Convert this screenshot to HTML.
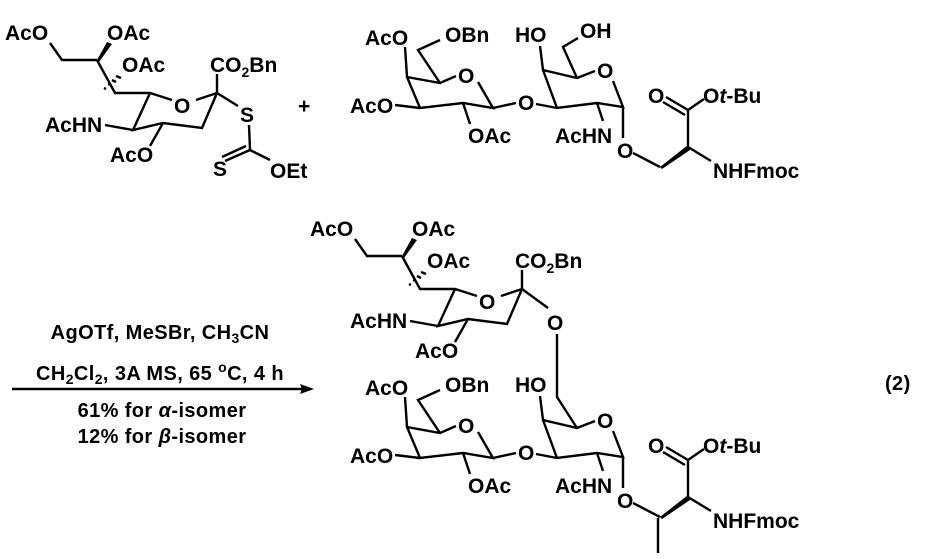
<!DOCTYPE html>
<html><head><meta charset="utf-8"><style>
html,body{margin:0;padding:0;background:#fff;}
svg{display:block;}
text{font-family:"Liberation Sans",Arial,sans-serif;font-size:21px;font-weight:bold;fill:#000;}
.s{font-size:14px;}
.c{font-size:20px;letter-spacing:0.4px;}
.c .s{font-size:14px;}
line,polyline{stroke:#000;stroke-width:2.4;fill:none;}
</style></head><body>
<svg width="926" height="559" viewBox="0 0 926 559" xmlns="http://www.w3.org/2000/svg">
<defs>
<g id="sia">
  <text x="5" y="40">AcO</text>
  <text x="107" y="40">OAc</text>
  <text x="122" y="72">OAc</text>
  <text x="45" y="132">AcHN</text>
  <text x="110" y="162">AcO</text>
  <text x="210" y="72">CO<tspan class="s" dy="5">2</tspan><tspan dy="-5">Bn</tspan></text>
  <text x="174" y="113">O</text>
  <polyline points="50,43 62,60 97,60"/>
  <polygon points="97,60 107,42 112,44 99,62" fill="#000"/>
  <g stroke-width="2">
    <line x1="104" y1="88" x2="106" y2="89"/><line x1="108" y1="84" x2="111" y2="85"/><line x1="112" y1="80" x2="116" y2="82"/><line x1="116" y1="76" x2="121" y2="78"/>
  </g>
  <polyline points="97,60 115,93 150,93 172,100"/>
  <line x1="196" y1="100" x2="217" y2="93"/>
  <polyline points="217,93 202,128 163,123 133,130 150,93"/>
  <line x1="105" y1="125" x2="133" y2="130"/>
  <line x1="163" y1="123" x2="150" y2="146"/>
  <line x1="217" y1="93" x2="217" y2="74"/>
</g>
<g id="galpart">
  <text x="365" y="45">AcO</text>
  <text x="445" y="42">OBn</text>
  <text x="350" y="113">AcO</text>
  <text x="468" y="143">OAc</text>
  <text x="458" y="83">O</text>
  <text x="518" y="110">O</text>
  <text x="515" y="42">HO</text>
  <text x="597" y="78">O</text>
  <text x="555" y="143">AcHN</text>
  <text x="617" y="158">O</text>
  <text x="648" y="103">O</text>
  <text x="703" y="103">O<tspan font-style="italic">t</tspan>-Bu</text>
  <text x="713" y="178">NHFmoc</text>
  <polyline points="405,47 407,77 440,83 456,76"/>
  <polyline points="440,83 418,50 440,40"/>
  <polyline points="478,82 493,108 463,103 420,108 407,77"/>
  <line x1="395" y1="105" x2="420" y2="108"/>
  <line x1="463" y1="103" x2="470" y2="124"/>
  <line x1="493" y1="108" x2="516" y2="103"/>
  <line x1="536" y1="104" x2="557" y2="108"/>
  <polyline points="540,46 543,70 577,78 595,71"/>
  <polyline points="613,81 623,107 597,103 557,108 543,70"/>
  <line x1="597" y1="103" x2="603" y2="121"/>
  <line x1="623" y1="107" x2="623" y2="138"/>
  <line x1="688" y1="147" x2="688" y2="110"/>
  <line x1="688" y1="110" x2="666" y2="97"/>
  <line x1="685" y1="115" x2="663" y2="102"/>
  <line x1="688" y1="110" x2="704" y2="99"/>
  <line x1="688" y1="147" x2="711" y2="161"/>
</g>
</defs>
<!-- reactant 1 -->
<use href="#sia"/>
<line x1="217" y1="93" x2="238" y2="106"/>
<text x="240" y="122">S</text>
<line x1="249" y1="125" x2="250" y2="150"/>
<line x1="250" y1="150" x2="225" y2="161"/>
<line x1="246" y1="146" x2="222" y2="157"/>
<line x1="250" y1="150" x2="270" y2="160"/>
<text x="213" y="176">S</text>
<text x="270" y="178">OEt</text>
<text x="298" y="113">+</text>
<!-- reactant 2 -->
<use href="#galpart"/>
<text x="580" y="38">OH</text>
<polyline points="577,78 563,47 578,38"/>
<polyline points="633,153 660,167"/>
<polygon points="660,167 688,145 690,150 662,169" fill="#000"/>
<!-- conditions -->
<text class="c" x="160" y="339" text-anchor="middle">AgOTf, MeSBr, CH<tspan class="s" dy="4">3</tspan><tspan dy="-4">CN</tspan></text>
<text class="c" x="160" y="380" text-anchor="middle">CH<tspan class="s" dy="4">2</tspan><tspan dy="-4">Cl</tspan><tspan class="s" dy="4">2</tspan><tspan dy="-4">, 3A MS, 65 </tspan><tspan class="s" dy="-8">o</tspan><tspan dy="8">C, 4 h</tspan></text>
<line x1="12" y1="389" x2="305" y2="389" stroke-width="2"/>
<polygon points="314,389 300,384 302,389 300,394" fill="#000"/>
<text class="c" x="162" y="417" text-anchor="middle">61% for <tspan font-style="italic">α</tspan>-isomer</text>
<text class="c" x="162" y="443" text-anchor="middle">12% for <tspan font-style="italic">β</tspan>-isomer</text>
<text class="c" x="885" y="390">(2)</text>
<!-- product -->
<use href="#sia" transform="translate(305,196)"/>
<line x1="522" y1="289" x2="548" y2="308"/>
<text x="547" y="330">O</text>
<polyline points="557,334 557,397 577,428"/>
<use href="#galpart" transform="translate(0,350)"/>
<line x1="633" y1="503" x2="660" y2="517"/>
<polygon points="660,517 688,495 690,500 662,519" fill="#000"/>
<line x1="658" y1="518" x2="658" y2="553"/>
</svg>
</body></html>
